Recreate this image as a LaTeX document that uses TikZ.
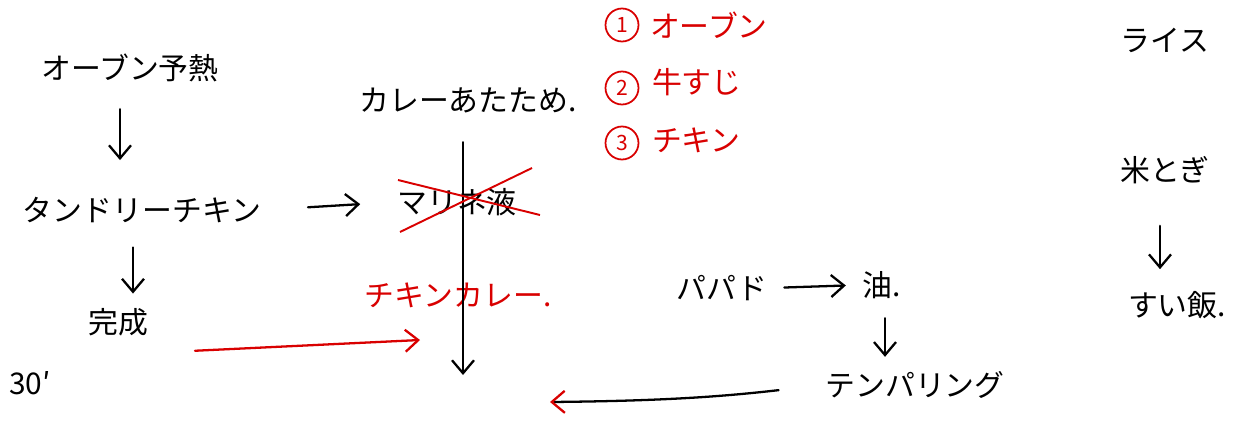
\documentclass[tikz,border=0pt]{standalone}
\usepackage{fontspec}
\newfontfamily\jp{Noto Sans CJK JP}
\usetikzlibrary{arrows.meta,positioning}
\begin{document}
\begin{tikzpicture}[
  x=0.02cm, y=-0.02cm,
  font=\jp\fontsize{17}{20}\selectfont,
  lbl/.style={inner sep=1pt},
  redlbl/.style={lbl, text=red!85!black},
  num/.style={circle, draw=red!85!black, text=red!85!black, line width=1pt, inner sep=0pt, minimum size=6.6mm, font=\jp\fontsize{12}{14}\selectfont},
  arr/.style={-{Straight Barb[length=2.6mm,width=4.4mm]}, line width=1.3pt, line cap=round},
  redarr/.style={arr, red!85!black},
  cross/.style={red!85!black, line width=1.1pt}
]
\fill[white] (0,0) rectangle (1243,426);
\useasboundingbox (0,0) rectangle (1243,426);
% left column
\node[lbl] (oven) at (130,68) {オーブン予熱};
\node[lbl] (tandoori) at (142,210) {タンドリーチキン};
\node[lbl] (done) at (118,322) {完成};
\node[lbl] (min) at (30,383) {30′};
% curry column
\node[lbl] (curry) at (468,100) {カレーあたため.};
\node[lbl] (marine) at (457,202) {マリネ液};
\node[redlbl] (ckcurry) at (458,295) {チキンカレー.};
\coordinate (lineEnd) at (463,375);
\coordinate (redEnd) at (420,340);
% order list
\node[num] (n1) at (622,25) {1};
\node[redlbl, anchor=west] (o1) at (648,25) {オーブン};
\node[num] (n2) at (622,88) {2};
\node[redlbl, anchor=west] (o2) at (650,82) {牛すじ};
\node[num] (n3) at (622,143) {3};
\node[redlbl, anchor=west] (o3) at (650,140) {チキン};
% papad
\node[lbl] (papad) at (722,288) {パパド};
\node[lbl] (oil) at (882,285) {油.};
\node[lbl] (temper) at (915,385) {テンパリング};
\coordinate (tempEnd) at (550,402);
% rice
\node[lbl] (rice) at (1165,40) {ライス};
\node[lbl] (wash) at (1165,170) {米とぎ};
\node[lbl] (cook) at (1177,305) {すい飯.};

\draw[arr, shorten <=5mm, shorten >=7mm] (oven.south -| 120,0) -- (tandoori.north -| 120,0);
\draw[arr, shorten <=4.5mm, shorten >=2.5mm] (tandoori.south -| 133,0) -- (done.north -| 133,0);
\draw[arr, shorten <=9mm, shorten >=7mm] (tandoori.east) -- (marine.west);
\draw[redarr, shorten <=5mm] ([shift={(20,14)}]done.south east) -- (redEnd);
\draw[arr, shorten <=5.5mm] (curry.south -| lineEnd) -- (lineEnd);
\draw[cross] ([shift={(-59,-22)}]marine.center) -- ([shift={(83,13)}]marine.center);
\draw[cross] ([shift={(-57,30)}]marine.center) -- ([shift={(75,-34)}]marine.center);
\draw[arr, shorten <=3mm, shorten >=3mm] (papad.east) -- (oil.west);
\draw[arr, shorten <=3.5mm, shorten >=2.5mm] (oil.south -| 885,0) -- (temper.north -| 885,0);
\draw[line width=1.3pt, line cap=round, -{Straight Barb[length=2.6mm,width=4.4mm,color=red!85!black]}, shorten <=9mm] (temper.west) to[bend left=3] (tempEnd);
\draw[arr, shorten <=8mm, shorten >=4mm] (wash.south -| 1160,0) -- (cook.north -| 1160,0);
\end{tikzpicture}
\end{document}
